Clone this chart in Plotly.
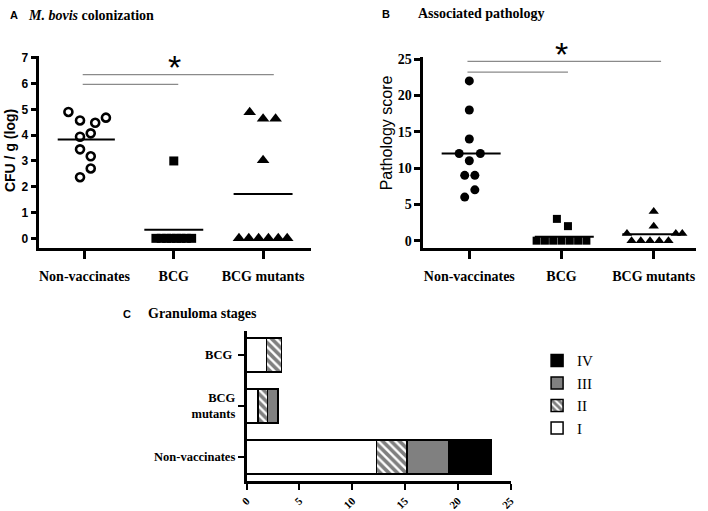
import numpy as np
import plotly.graph_objects as go

W, H = 708, 511

# ---------------- data ----------------
groups = ["Non-vaccinates", "BCG", "BCG mutants"]

# Panel A: M. bovis colonization, CFU / g (log)
cfu_nonvac = [4.90, 4.57, 4.48, 4.68, 3.94, 4.07, 3.45, 3.18, 2.71, 2.37]
cfu_bcg = [3.0, 0, 0, 0, 0, 0, 0, 0, 0]
cfu_mut = [4.89, 4.64, 4.64, 3.03, 0, 0, 0, 0, 0, 0]
cfu_ticks = [0, 1, 2, 3, 4, 5, 6, 7]

# horizontal scatter offsets (dot-plot spreading) within each group
jit_a_nonvac = [-0.18, -0.05, 0.12, 0.24, -0.05, 0.07, -0.05, 0.07, 0.07, -0.05]
jit_a_bcg = [0.0, -0.20, -0.14, -0.08, -0.03, 0.03, 0.08, 0.14, 0.20]
jit_a_mut = [-0.15, 0.0, 0.14, 0.0, -0.27, -0.16, -0.05, 0.06, 0.17, 0.27]

# Panel B: pathology score
path_nonvac = [22, 18, 14, 12, 12, 11, 9, 9, 7, 6]
path_bcg = [3, 2, 0, 0, 0, 0, 0, 0, 0]
path_mut = [4, 2, 1, 1, 1, 0, 0, 0, 0, 0]
path_ticks = [0, 5, 10, 15, 20, 25]

jit_b_nonvac = [0.0, 0.0, 0.0, -0.11, 0.12, 0.0, -0.05, 0.06, 0.06, -0.05]
jit_b_bcg = [-0.05, 0.07, -0.27, -0.18, -0.09, 0.0, 0.09, 0.18, 0.27]
jit_b_mut = [0.0, 0.0, -0.29, 0.24, 0.31, -0.24, -0.14, -0.04, 0.06, 0.16]

# Panel C: granuloma stages (stacked horizontal bars)
stage_cats = ["Non-vaccinates", "BCG<br>mutants", "BCG "]
stage_I = [12.3, 1.1, 1.9]
stage_II = [2.9, 0.9, 1.4]
stage_III = [3.9, 1.0, 0]
stage_IV = [4.1, 0, 0]
stage_ticks = [0, 5, 10, 15, 20, 25]

# ---------------- helpers ----------------
def px_x(x):
    return x / W

def px_y(y):
    return (H - y) / H

SERIF = "Liberation Serif"
SANS = "Liberation Sans"

fig = go.Figure()

def add_group(xa, ya, gi, vals, jit, symbol, size, fill, lw):
    fig.add_trace(go.Scatter(
        x=[gi + j for j in jit], y=vals, mode="markers",
        marker=dict(symbol=symbol, size=size, color=fill,
                    line=dict(color="black", width=lw)),
        xaxis=xa, yaxis=ya, showlegend=False, cliponaxis=False,
        hoverinfo="skip"))

def add_mean(xa, ya, gi, vals, lo, hi):
    m = float(np.mean(vals))
    fig.add_trace(go.Scatter(
        x=[gi + lo, gi + hi], y=[m, m], mode="lines",
        line=dict(color="black", width=2),
        xaxis=xa, yaxis=ya, showlegend=False, cliponaxis=False,
        hoverinfo="skip"))

# ---------- Panel A ----------
add_group("x", "y", 0, cfu_nonvac, jit_a_nonvac, "circle", 8, "white", 2.6)
add_group("x", "y", 1, cfu_bcg, jit_a_bcg, "square", 9, "black", 0)
add_group("x", "y", 2, cfu_mut, jit_a_mut, "triangle-up", 11, "black", 0)
add_mean("x", "y", 0, cfu_nonvac, -0.30, 0.34)
add_mean("x", "y", 1, cfu_bcg, -0.33, 0.33)
add_mean("x", "y", 2, cfu_mut, -0.33, 0.33)

# ---------- Panel B ----------
add_group("x2", "y2", 0, path_nonvac, jit_b_nonvac, "circle", 9, "black", 0)
add_group("x2", "y2", 1, path_bcg, jit_b_bcg, "square", 8, "black", 0)
add_group("x2", "y2", 2, path_mut, jit_b_mut, "triangle-up", 9, "black", 0)
add_mean("x2", "y2", 0, path_nonvac, -0.30, 0.34)
add_mean("x2", "y2", 1, path_bcg, -0.29, 0.35)
add_mean("x2", "y2", 2, path_mut, -0.34, 0.34)

# ---------- Panel C ----------
bar_line = dict(color="black", width=1.5)
fig.add_trace(go.Bar(name="I", y=stage_cats, x=stage_I, orientation="h",
                     marker=dict(color="white", line=bar_line),
                     xaxis="x3", yaxis="y3", width=0.67))
fig.add_trace(go.Bar(name="II", y=stage_cats, x=stage_II, orientation="h",
                     marker=dict(color="white", line=bar_line,
                                 pattern=dict(shape="\\", fgcolor="black",
                                              bgcolor="white", size=6,
                                              solidity=0.6)),
                     xaxis="x3", yaxis="y3", width=0.67))
fig.add_trace(go.Bar(name="III", y=stage_cats, x=stage_III, orientation="h",
                     marker=dict(color="#808080", line=bar_line),
                     xaxis="x3", yaxis="y3", width=0.67))
fig.add_trace(go.Bar(name="IV", y=stage_cats, x=stage_IV, orientation="h",
                     marker=dict(color="black", line=bar_line),
                     xaxis="x3", yaxis="y3", width=0.67))

# ---------- axes ----------
axis_common = dict(showline=True, linecolor="black", showgrid=False,
                   zeroline=False, ticks="outside", tickcolor="black")

fig.update_layout(
    width=W, height=H, margin=dict(l=0, r=0, t=0, b=0),
    paper_bgcolor="white", plot_bgcolor="white",
    barmode="stack",
    xaxis=dict(**axis_common, domain=[px_x(33), px_x(310)],
               range=[-0.505, 2.54], tickvals=[0, 1, 2], ticktext=groups,
               linewidth=2.5, tickwidth=2.5, ticklen=8, anchor="y",
               tickfont=dict(family=SERIF, size=14, color="black", weight="bold"),
               ticklabelstandoff=5),
    yaxis=dict(**axis_common, domain=[px_y(248), px_y(52)],
               range=[-0.38, 7.07], tickvals=cfu_ticks,
               linewidth=2.5, tickwidth=2.5, ticklen=6, anchor="x",
               tickfont=dict(family=SANS, size=12, color="black", weight="bold")),
    xaxis2=dict(**axis_common, domain=[px_x(424), px_x(702)],
                range=[-0.5, 2.46], tickvals=[0, 1, 2], ticktext=groups,
                linewidth=2.5, tickwidth=2.5, ticklen=8, anchor="y2",
                tickfont=dict(family=SERIF, size=14, color="black", weight="bold"),
                ticklabelstandoff=5),
    yaxis2=dict(**axis_common, domain=[px_y(248), px_y(53)],
                range=[-1.03, 25.3], tickvals=path_ticks,
                linewidth=2.5, tickwidth=2.5, ticklen=6, anchor="x2",
                tickfont=dict(family=SERIF, size=14, color="black", weight="bold")),
    xaxis3=dict(**axis_common, domain=[px_x(244), px_x(513)],
                range=[0, 25], tickvals=stage_ticks, tickangle=-45,
                linewidth=2.5, tickwidth=2, ticklen=6, anchor="y3",
                tickfont=dict(family=SERIF, size=11, color="black", weight="bold")),
    yaxis3=dict(**axis_common, domain=[px_y(486), px_y(332)],
                range=[-0.48, 2.48], categoryorder="array",
                categoryarray=stage_cats,
                linewidth=2.5, tickwidth=2, ticklen=6, anchor="x3",
                tickfont=dict(family=SERIF, size=12.5, color="black", weight="bold")),
    legend=dict(x=px_x(540), y=px_y(346), xanchor="left", yanchor="top",
                traceorder="reversed", tracegroupgap=0,
                font=dict(family=SERIF, size=15, color="black"),
                bgcolor="rgba(0,0,0,0)", itemclick=False),
    showlegend=True,
)

# ---------- significance bars ----------
sig = [
    ("x", "y", -0.02, 2.12, 6.35),
    ("x", "y", -0.02, 1.05, 5.97),
    ("x2", "y2", -0.02, 2.08, 24.7),
    ("x2", "y2", -0.02, 1.07, 23.2),
]
for xr, yr, x0, x1, yv in sig:
    fig.add_shape(type="line", xref=xr, yref=yr, x0=x0, x1=x1, y0=yv, y1=yv,
                  line=dict(color="#8a8a8a", width=1.3))

# ---------- titles / labels ----------
def ann(x, y, text, family, size, weight="bold", xanchor="left", angle=0,
        yanchor="middle"):
    fig.add_annotation(x=px_x(x), y=px_y(y), xref="paper", yref="paper",
                       text=text, showarrow=False, xanchor=xanchor,
                       yanchor=yanchor, textangle=angle,
                       font=dict(family=family, size=size, color="black",
                                 weight=weight))

# asterisks (glyph sits high in the line box, so anchor lower)
ann(171, 63, "*", SANS, 34, weight="normal", xanchor="center")
ann(565, 50, "*", SANS, 34, weight="normal", xanchor="center")

ann(7, 10, "A", SANS, 11, xanchor="center")
ann(19, 11, "<i>M. bovis</i> colonization", SERIF, 14)
ann(386, 9, "B", SANS, 11, xanchor="center")
ann(417, 9, "Associated pathology", SERIF, 14)
ann(122, 315, "C", SANS, 11, xanchor="center")
ann(142, 315, "Granuloma stages", SERIF, 14)
ann(3, 148, "CFU / g (log)", SANS, 14, xanchor="center", angle=-90)
ann(387, 130, "Pathology score", SANS, 16, weight="normal",
    xanchor="center", angle=-90)

fig.write_html(
    "out.html",
    config={"displayModeBar": False},
    post_script="document.body.style.margin='0';"
                "document.body.style.overflow='hidden';",
)
